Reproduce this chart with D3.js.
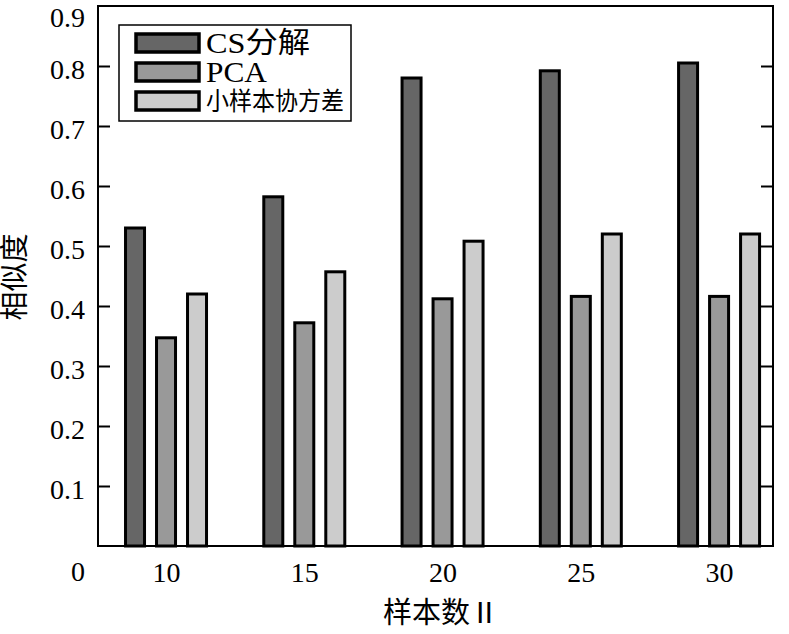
<!DOCTYPE html>
<html><head><meta charset="utf-8">
<script src="https://cdn.jsdelivr.net/npm/d3@7"></script>
<style>body{margin:0;background:#fff}svg{display:block}</style>
</head><body>
<svg id="c" width="789" height="634"></svg>
<script>
const categories = [10, 15, 20, 25, 30];
const seriesNames = ["CS分解", "PCA", "小样本协方差"];
const csValues = [0.530, 0.582, 0.780, 0.792, 0.805];
const pcaValues = [0.347, 0.372, 0.412, 0.416, 0.416];
const smallValues = [0.420, 0.457, 0.508, 0.520, 0.520];
const yTicks = [0.1, 0.2, 0.3, 0.4, 0.5, 0.6, 0.7, 0.8, 0.9];
const colors = ["#666666", "#999999", "#cccccc"];
const series = [csValues, pcaValues, smallValues];

const svg = d3.select("#c");
const L = 98, R = 773, T = 6, B = 546;
const font = "Liberation Serif, Times New Roman, Noto Sans CJK SC, serif";
const x = d3.scaleLinear().domain([7.54, 31.95]).range([L, R]);
const y = d3.scaleLinear().domain([0, 0.9]).range([B, T]);
const off = 31, bw = 19;

// bars
series.forEach((vals, si) => {
  svg.append("g").selectAll("rect").data(vals).join("rect")
    .attr("x", (d, i) => x(categories[i]) + (si - 1) * off - bw / 2)
    .attr("y", d => y(d))
    .attr("width", bw)
    .attr("height", d => y(0) - y(d))
    .attr("fill", colors[si])
    .attr("stroke", "#000").attr("stroke-width", 3);
});

// frame
svg.append("rect").attr("x", L).attr("y", T).attr("width", R - L).attr("height", B - T)
  .attr("fill", "none").attr("stroke", "#000").attr("stroke-width", 2);

// y axis ticks (inward) left
const yl = svg.append("g").attr("transform", `translate(${L},0)`)
  .call(d3.axisLeft(y).tickValues(yTicks).tickSize(-12).tickPadding(13).tickFormat(d3.format(".1f")));
yl.select(".domain").remove();
yl.attr("font-family", null).attr("font-size", null);
yl.selectAll("line").attr("stroke", "#000").attr("stroke-width", 2);
yl.selectAll("text").style("font-family", font).style("font-size", "28px").attr("fill", "#000")
  .attr("dy", d => d === 0.9 ? "0.72em" : "0.45em");
yl.selectAll(".tick").filter(d => d === 0.9).select("line").remove();
// right ticks
const yr = svg.append("g").attr("transform", `translate(${R},0)`)
  .call(d3.axisRight(y).tickValues(yTicks.filter(d => d < 0.9)).tickSize(-12).tickFormat(""));
yr.select(".domain").remove();
yr.selectAll("line").attr("stroke", "#000").attr("stroke-width", 2);

// x axis labels
const xa = svg.append("g").attr("transform", `translate(0,${B})`)
  .call(d3.axisBottom(x).tickValues(categories).tickSize(0).tickPadding(16));
xa.select(".domain").remove();
xa.attr("font-family", null).attr("font-size", null);
xa.selectAll("text").style("font-family", font).style("font-size", "28px").attr("fill", "#000");

// zero label
svg.append("text").attr("x", 78).attr("y", 581).attr("text-anchor", "middle")
  .style("font-family", font).style("font-size", "28px").text("0");

// axis titles
svg.append("text").attr("x", 441).attr("y", 623).attr("text-anchor", "middle")
  .style("font-family", font).style("font-size", "29px").text("样本数Ⅱ");
svg.append("text").attr("transform", "translate(25,277) rotate(-90)").attr("text-anchor", "middle")
  .style("font-family", font).style("font-size", "29px").text("相似度");

// legend
const lg = svg.append("g");
lg.append("rect").attr("x", 119).attr("y", 25).attr("width", 232).attr("height", 96)
  .attr("fill", "#fff").attr("stroke", "#000").attr("stroke-width", 1.5);
const legSizes = [29, 29, 25];
const legLens = [104, 61, 138];
const legBase = [53, 82, 110];
seriesNames.forEach((n, i) => {
  lg.append("rect").attr("x", 136).attr("y", 34 + i * 29).attr("width", 63).attr("height", 18)
    .attr("fill", colors[i]).attr("stroke", "#000").attr("stroke-width", 3.5);
  lg.append("text").attr("x", 206).attr("y", legBase[i])
    .attr("textLength", legLens[i]).attr("lengthAdjust", "spacingAndGlyphs")
    .style("font-family", font).style("font-size", legSizes[i] + "px").text(n);
});
</script>
</body></html>
